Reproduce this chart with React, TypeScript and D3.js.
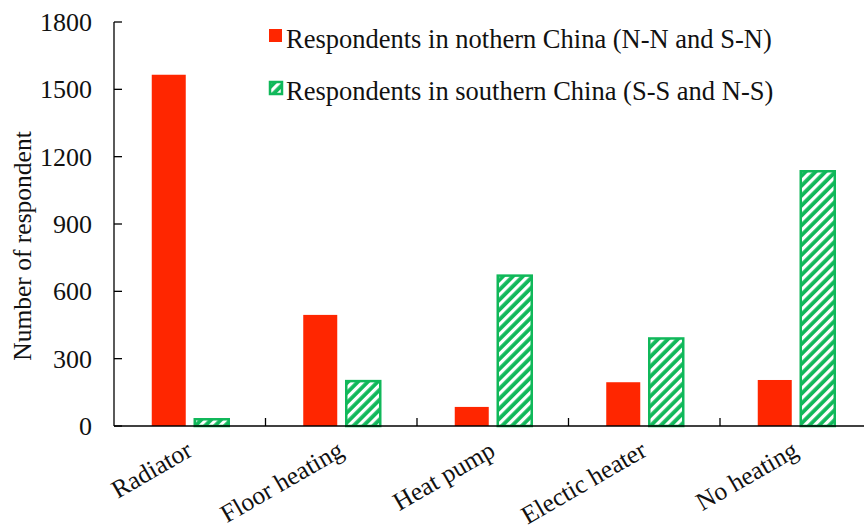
import React from "react";
import * as d3 from "d3";

const categories = ["Radiator", "Floor heating", "Heat pump", "Electic heater", "No heating"];
const northern = [1565, 495, 85, 195, 205];
const southern = [30, 200, 670, 390, 1135];
const seriesNames = [
  "Respondents in nothern China (N-N and S-N)",
  "Respondents in southern China (S-S and N-S)",
];
const yTicks = [0, 300, 600, 900, 1200, 1500, 1800];

const W = 864;
const H = 529;
// the category axis runs a little past the right edge of the canvas
const margin = { left: 114, top: 22, bottom: 103 };
const xEnd = 871.5;
const RED = "#ff2600";
const GREEN = "#10b85a";
const FONT = "'Liberation Serif', 'Times New Roman', serif";

export default function App() {
  const x = d3
    .scaleBand<string>()
    .domain(categories)
    .range([margin.left, xEnd])
    .paddingInner(0)
    .paddingOuter(0);
  const y = d3.scaleLinear().domain([0, 1800]).range([H - margin.bottom, margin.top]);
  const bw = x.bandwidth();
  const barW = 34;
  const y0 = y(0);

  return (
    <svg width={W} height={H} style={{ position: "absolute", left: 0, top: 0, background: "#fff" }}>
      <defs>
        <pattern id="hatch" patternUnits="userSpaceOnUse" width="7" height="7" patternTransform="rotate(45)">
          <rect width="7" height="7" fill={GREEN} />
          <rect x="0" y="0" width="3.2" height="7" fill="#fff" />
        </pattern>
      </defs>

      {/* bars */}
      {categories.map((c, i) => {
        const cx = (x(c) as number) + bw / 2;
        const rx = cx - 38;
        const gx = cx + 5;
        return (
          <g key={c}>
            <rect x={rx} y={y(northern[i])} width={barW} height={y0 - y(northern[i])} fill={RED} />
            <rect
              x={gx}
              y={y(southern[i])}
              width={barW}
              height={y0 - y(southern[i])}
              fill="url(#hatch)"
              stroke={GREEN}
              strokeWidth={2.5}
            />
          </g>
        );
      })}

      {/* y axis */}
      <line x1={margin.left} x2={margin.left} y1={margin.top} y2={y0} stroke="#000" strokeWidth={1.3} />
      {yTicks.map((t) => (
        <g key={t}>
          <line x1={margin.left} x2={margin.left + 8} y1={y(t)} y2={y(t)} stroke="#000" strokeWidth={1.3} />
          <text
            x={margin.left - 22}
            y={y(t)}
            dy="0.35em"
            textAnchor="end"
            fontFamily={FONT}
            fontSize={26}
            fill="#111"
          >
            {t}
          </text>
        </g>
      ))}
      <text
        transform={`translate(31, 246) rotate(-90)`}
        textAnchor="middle"
        fontFamily={FONT}
        fontSize={25.5}
        fill="#111"
      >
        Number of respondent
      </text>

      {/* x axis */}
      <line x1={margin.left} x2={W} y1={y0} y2={y0} stroke="#000" strokeWidth={1.3} />
      {categories.map((c) => (
        <line
          key={"t" + c}
          x1={(x(c) as number) + bw}
          x2={(x(c) as number) + bw}
          y1={y0}
          y2={y0 - 8}
          stroke="#000"
          strokeWidth={1.3}
        />
      ))}
      {categories.map((c) => {
        const cx = (x(c) as number) + bw / 2;
        return (
          <text
            key={"l" + c}
            transform={`translate(${cx + 4}, ${y0 + 29}) rotate(-30)`}
            textAnchor="end"
            fontFamily={FONT}
            fontSize={25.5}
            fill="#111"
          >
            {c}
          </text>
        );
      })}

      {/* legend */}
      {seriesNames.map((s, i) => (
        <g key={s} transform={`translate(269, ${29 + i * 52})`}>
          {i === 0 ? (
            <rect x={0} y={0} width={13} height={13} fill={RED} />
          ) : (
            <rect x={1} y={1} width={12} height={12} fill="url(#hatch)" stroke={GREEN} strokeWidth={2.5} />
          )}
          <text x={17} y={19} fontFamily={FONT} fontSize={26.5} fill="#111">
            {s}
          </text>
        </g>
      ))}
    </svg>
  );
}
